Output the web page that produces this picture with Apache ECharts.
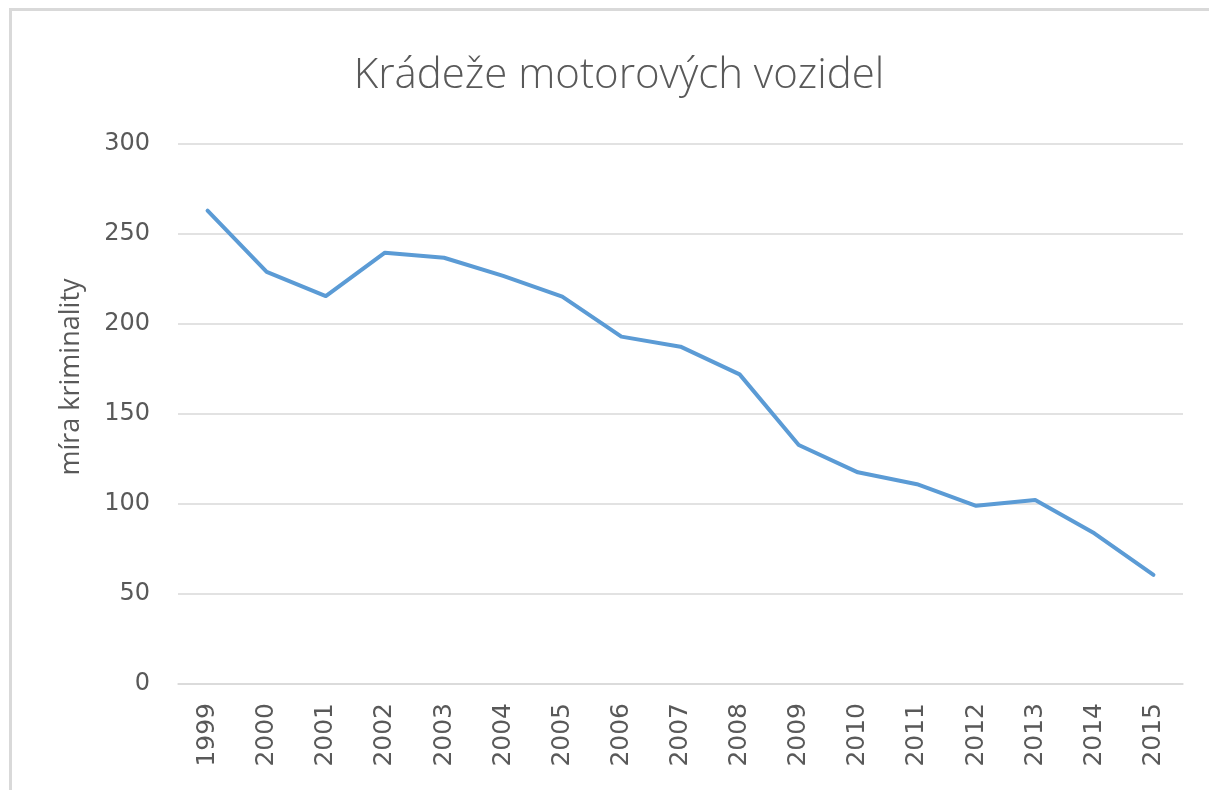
<!DOCTYPE html>
<html>
<head>
<meta charset="utf-8">
<script src="https://cdn.jsdelivr.net/npm/echarts@6/dist/echarts.min.js"></script>
<style>
    html, body { margin: 0; padding: 0; background: #fff; }
    #chart { width: 1209px; height: 790px; }
</style>
</head>
<body>
<div id="chart"></div>
<script>
// roky a hodnoty
var years = ['1999', '2000', '2001', '2002', '2003', '2004', '2005', '2006', '2007',
             '2008', '2009', '2010', '2011', '2012', '2013', '2014', '2015'];
var theftRate = [263, 229, 215.5, 239.6, 236.8, 226.7, 215.2, 193, 187.4,
                 172, 132.8, 117.6, 111, 99, 102.2, 83.7, 60.6];
var yTicks = [0, 50, 100, 150, 200, 250, 300];

var txt = '#595959';
var myChart = echarts.init(document.getElementById('chart'));
var option = {
    animation: false,
    title: {
        text: 'Krádeže motorových vozidel',
        left: 614,
        textAlign: 'center',
        top: 50,
        textStyle: { fontFamily: 'Open Sans', fontWeight: 300, fontSize: 42, color: txt }
    },
    graphic: [
        { type: 'line', shape: { x1: 9, y1: 9.5, x2: 1209, y2: 9.5 }, style: { stroke: '#d9d9d9', lineWidth: 3 } },
        { type: 'line', shape: { x1: 10.5, y1: 9, x2: 10.5, y2: 790 }, style: { stroke: '#d9d9d9', lineWidth: 3 } },
        // popisek osy y
        {
            type: 'text',
            x: 71, y: 377,
            rotation: Math.PI / 2,
            style: {
                text: 'míra kriminality',
                fontFamily: 'Open Sans',
                fontSize: 27,
                fill: txt,
                align: 'center',
                verticalAlign: 'middle'
            }
        }
    ],
    grid: { left: 178, right: 26, top: 144, bottom: 106 },
    xAxis: {
        type: 'category',
        data: years,
        boundaryGap: true,
        axisLine: { lineStyle: { color: '#d9d9d9', width: 1.5 } },
        axisTick: { show: false },
        axisLabel: {
            rotate: 90,
            margin: 19,
            fontFamily: 'DejaVu Sans',
            fontSize: 25,
            color: txt
        }
    },
    yAxis: {
        type: 'value',
        min: yTicks[0],
        max: yTicks[yTicks.length - 1],
        interval: 50,
        axisLine: { show: false },
        axisTick: { show: false },
        axisLabel: { fontFamily: 'DejaVu Sans', fontSize: 24, color: txt, margin: 28 },
        splitLine: { lineStyle: { color: '#d9d9d9', width: 1.5 } }
    },
    series: [{
        type: 'line',
        data: theftRate,
        symbol: 'none',
        lineStyle: { color: '#5b9bd5', width: 4, join: 'round', cap: 'round' }
    }]
};
myChart.setOption(option);
</script>
</body>
</html>
